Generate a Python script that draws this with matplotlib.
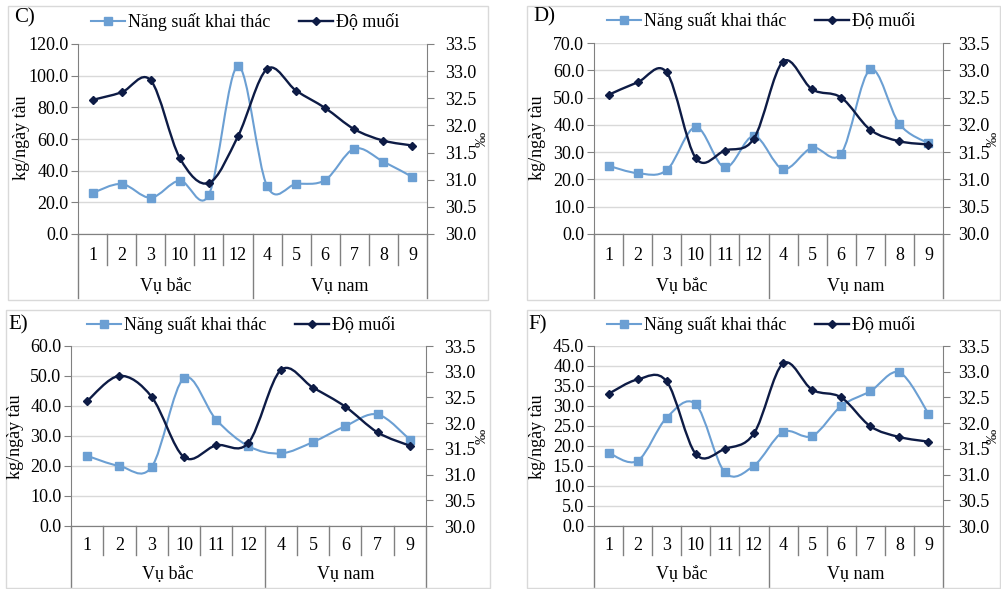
import numpy as np
import matplotlib
matplotlib.use("Agg")
import matplotlib.pyplot as plt
from matplotlib.path import Path
from matplotlib.patches import PathPatch, Rectangle
from matplotlib.lines import Line2D

plt.rcParams['font.family'] = 'serif'
plt.rcParams['font.serif'] = ['Liberation Serif', 'DejaVu Serif']

# ---------------- data ----------------
cats_full = ['1', '2', '3', '10', '11', '12', '4', '5', '6', '7', '8', '9']
cats_E = ['1', '2', '3', '10', '11', '12', '4', '5', '6', '7', '9']
groups = ['Vụ bắc', 'Vụ nam']
n_bac = 6

C_ns = [25.9, 31.6, 22.9, 33.7, 24.8, 106.1, 30.3, 31.6, 34.1, 53.9, 45.7, 36.0]
C_sal = [32.47, 32.61, 32.83, 31.40, 30.94, 31.80, 33.04, 32.64, 32.32, 31.93, 31.72, 31.63]
D_ns = [25.0, 22.3, 23.4, 39.2, 24.4, 35.9, 23.8, 31.6, 29.5, 60.3, 40.3, 33.2]
D_sal = [32.55, 32.78, 32.96, 31.39, 31.53, 31.75, 33.16, 32.65, 32.50, 31.91, 31.70, 31.64]
E_ns = [23.4, 20.0, 19.7, 49.3, 35.4, 26.6, 24.2, 28.0, 33.3, 37.2, 28.8]
E_sal = [32.43, 32.92, 32.51, 31.34, 31.57, 31.62, 33.03, 32.69, 32.32, 31.82, 31.56]
F_ns = [18.3, 16.3, 27.1, 30.4, 13.4, 15.1, 23.5, 22.5, 30.0, 33.7, 38.4, 28.1]
F_sal = [32.57, 32.85, 32.81, 31.40, 31.50, 31.80, 33.16, 32.65, 32.50, 31.94, 31.73, 31.64]

legend_labels = ['Năng suất khai thác', 'Độ muối']
ylabel_left = 'kg/ngày tàu'
ylabel_right = '‰'

# ---------------- style ----------------
W, H = 1001, 589
NS_COLOR = '#6b9fd3'
SAL_COLOR = '#0d1b45'
GRID = '#d9d9d9'
AXC = '#808080'
FS = 13

fig = plt.figure(figsize=(W / 100, H / 100), dpi=100)


def fx(x):
    return x / W


def fy(y):
    return 1 - y / H


def smooth_path(xs, ys):
    pts = np.column_stack([xs, ys]).astype(float)
    n = len(pts)
    verts = [pts[0]]
    codes = [Path.MOVETO]
    for i in range(n - 1):
        p0 = pts[i - 1] if i > 0 else pts[i]
        p1 = pts[i]
        p2 = pts[i + 1]
        p3 = pts[i + 2] if i + 2 < n else pts[i + 1]
        c1 = p1 + (p2 - p0) / 6.0
        c2 = p2 - (p3 - p1) / 6.0
        verts += [c1, c2, p2]
        codes += [Path.CURVE4] * 3
    return Path(verts, codes)


panels = [
    dict(tag='C)', cats=cats_full, ns=C_ns, sal=C_sal, ymax=120, ystep=20,
         box=(8, 6, 488, 300), ax=(78, 44, 427, 234), cat_y=255, grp_y=287,
         cat_bot=265, grp_bot=298, title=(14, 18), leg=(245, 22),
         yl=(22, 138), yr=(482, 139), rpad=8),
    dict(tag='D)', cats=cats_full, ns=D_ns, sal=D_sal, ymax=70, ystep=10,
         box=(527, 6, 1000, 300), ax=(594, 43, 943, 234), cat_y=255, grp_y=287,
         cat_bot=265, grp_bot=298, title=(533, 17), leg=(761, 21),
         yl=(538, 138), yr=(993, 139), rpad=6),
    dict(tag='E)', cats=cats_E, ns=E_ns, sal=E_sal, ymax=60, ystep=10,
         box=(6, 310, 490, 588), ax=(71, 346, 426, 526), cat_y=545, grp_y=575,
         cat_bot=555, grp_bot=587, title=(8, 325), leg=(241, 325),
         yl=(15, 437), yr=(482, 436), rpad=8),
    dict(tag='F)', cats=cats_full, ns=F_ns, sal=F_sal, ymax=45, ystep=5,
         box=(527, 310, 1000, 588), ax=(594, 346, 943, 526), cat_y=545, grp_y=575,
         cat_bot=555, grp_bot=587, title=(528, 325), leg=(761, 325),
         yl=(538, 437), yr=(993, 436), rpad=6),
]

for p in panels:
    bx0, by0, bx1, by1 = p['box']
    fig.add_artist(Rectangle((fx(bx0), fy(by1)), fx(bx1 - bx0), (by1 - by0) / H,
                             transform=fig.transFigure, fill=False,
                             edgecolor='#d9d9d9', linewidth=1.0))
    ax0, ay0, ax1p, ay1 = p['ax']
    ax = fig.add_axes([fx(ax0), fy(ay1), fx(ax1p - ax0), (ay1 - ay0) / H])
    ax2 = ax.twinx()
    n = len(p['cats'])
    xs = np.arange(n)
    axh = ay1 - ay0

    ax.set_xlim(-0.5, n - 0.5)
    ax.set_ylim(0, p['ymax'])
    ax.set_yticks(np.arange(0, p['ymax'] + 0.001, p['ystep']))
    ax.yaxis.set_major_formatter(matplotlib.ticker.FormatStrFormatter('%.1f'))
    ax.grid(axis='y', color=GRID, linewidth=1.0)
    ax.set_axisbelow(True)
    ax.set_xticks([])
    ax2.set_ylim(30.0, 33.5)
    ax2.set_yticks(np.arange(30.0, 33.51, 0.5))
    ax2.yaxis.set_major_formatter(matplotlib.ticker.FormatStrFormatter('%.1f'))

    for a in (ax, ax2):
        a.spines['top'].set_visible(False)
        a.spines['left'].set_color(AXC)
        a.spines['right'].set_color(AXC)
        a.spines['bottom'].set_color(AXC)
    ax2.spines['left'].set_visible(False)
    ax.spines['right'].set_visible(False)
    ax.tick_params(axis='y', direction='out', length=5, color=AXC, labelsize=FS, pad=2)
    ax2.tick_params(axis='y', direction='out', length=5, color=AXC, labelsize=FS,
                    pad=p['rpad'])

    # series 1: smoothed line with square markers
    ax.add_patch(PathPatch(smooth_path(xs, p['ns']), fill=False,
                           edgecolor=NS_COLOR, linewidth=1.5, zorder=3))
    ax.plot(xs, p['ns'], linestyle='none', marker='s', markersize=6,
            color=NS_COLOR, zorder=4)
    # series 2: smoothed line with diamond markers
    ax2.add_patch(PathPatch(smooth_path(xs, p['sal']), fill=False,
                            edgecolor=SAL_COLOR, linewidth=1.7, zorder=3))
    ax2.plot(xs, p['sal'], linestyle='none', marker='D', markersize=4.5,
             color=SAL_COLOR, zorder=4)

    # category axis (multi-level)
    tr = ax.get_xaxis_transform()
    cb = -(p['cat_bot'] - ay1) / axh
    gb = -(p['grp_bot'] - ay1) / axh
    cy = -(p['cat_y'] - ay1) / axh
    gy = -(p['grp_y'] - ay1) / axh
    for k in range(1, n):
        if k == n_bac:
            continue
        ax.plot([k - 0.5, k - 0.5], [0, cb], transform=tr, color=AXC,
                linewidth=1.0, clip_on=False)
    for xb in (-0.5, n_bac - 0.5, n - 0.5):
        ax.plot([xb, xb], [0, gb], transform=tr, color=AXC,
                linewidth=1.0, clip_on=False)
    for k, c in enumerate(p['cats']):
        ax.text(k, cy, c, transform=tr, ha='center', va='center', fontsize=FS)
    ax.text((n_bac - 1) / 2, gy, groups[0], transform=tr, ha='center',
            va='center', fontsize=FS)
    ax.text((n_bac + n - 1) / 2, gy, groups[1], transform=tr, ha='center',
            va='center', fontsize=FS)

    # titles and labels
    fig.text(fx(p['title'][0]), fy(p['title'][1]), p['tag'], ha='left',
             va='center', fontsize=15)
    fig.text(fx(p['yl'][0]), fy(p['yl'][1]), ylabel_left, rotation=90,
             ha='center', va='center', fontsize=FS)
    fig.text(fx(p['yr'][0]), fy(p['yr'][1]), ylabel_right, rotation=90,
             ha='center', va='center', fontsize=11)

    handles = [Line2D([], [], color=NS_COLOR, marker='s', markersize=6, linewidth=1.5),
               Line2D([], [], color=SAL_COLOR, marker='D', markersize=4.5, linewidth=1.7)]
    fig.legend(handles, legend_labels, loc='center',
               bbox_to_anchor=(fx(p['leg'][0]), fy(p['leg'][1])),
               ncol=2, frameon=False, fontsize=FS, handlelength=1.9,
               handletextpad=0.15, columnspacing=1.6, borderaxespad=0,
               borderpad=0)

fig.savefig('out.png', dpi=100)
